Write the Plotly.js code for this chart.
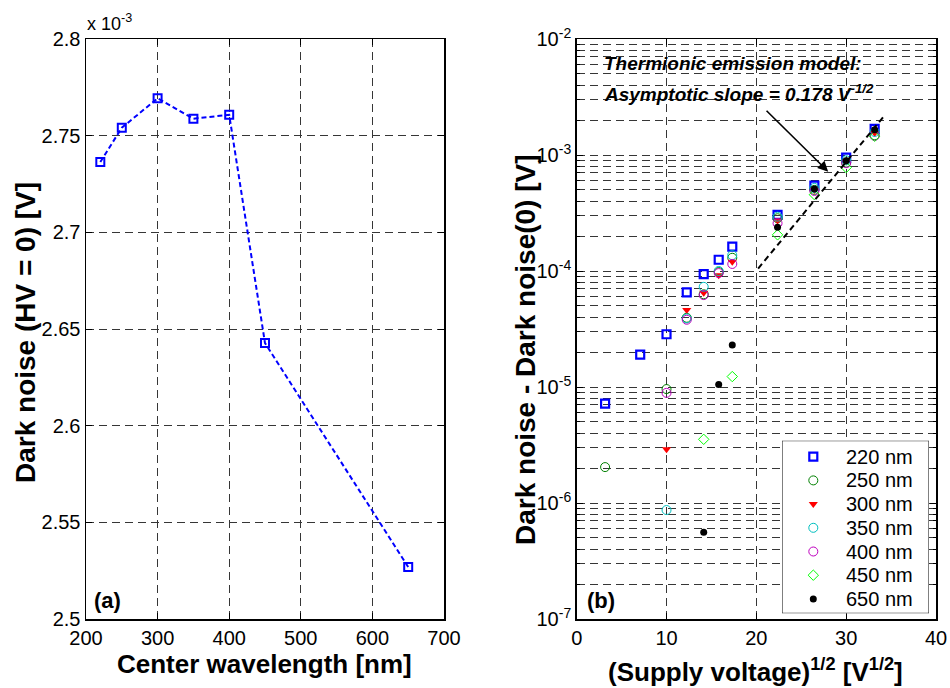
<!DOCTYPE html>
<html><head><meta charset="utf-8">
<script src="https://cdn.plot.ly/plotly-3.0.1.min.js"></script>
<style>html,body{margin:0;padding:0;background:#fff}#chart{width:950px;height:688px}</style>
</head><body><div id="chart"></div>
<script>
// ---------- Panel (a) data ----------
const wavelengths = [220, 250, 300, 350, 400, 450, 650];
const darkNoiseHV0 = [2.7364, 2.7541, 2.7693, 2.7588, 2.7608, 2.6427, 2.5269];
const aXTicks = [200, 300, 400, 500, 600, 700];
const aYTicks = [2.5, 2.55, 2.6, 2.65, 2.7, 2.75, 2.8];
const aYTickText = ['2.5', '2.55', '2.6', '2.65', '2.7', '2.75', '2.8'];

// ---------- Panel (b) data ----------
const seriesNames = ['220 nm', '250 nm', '300 nm', '350 nm', '400 nm', '450 nm', '650 nm'];
const x220 = [3.16, 7.07, 10, 12.25, 14.14, 15.81, 17.32, 22.36, 26.46, 30, 33.17];
const y220 = [7.2e-6, 1.9e-5, 2.85e-5, 6.55e-5, 9.4e-5, 1.25e-4, 1.62e-4, 3.05e-4, 5.45e-4, 9.5e-4, 1.68e-3];
const x250 = [3.16, 10, 12.25, 14.14, 15.81, 17.32, 22.36, 26.46, 30, 33.17];
const y250 = [2.04e-6, 9.6e-6, 3.95e-5, 6.3e-5, 9.8e-5, 1.3e-4, 2.85e-4, 5.0e-4, 8.6e-4, 1.48e-3];
const x300 = [10, 12.25, 14.14, 15.81, 17.32, 22.36, 26.46, 30, 33.17];
const y300 = [2.9e-6, 4.6e-5, 6.5e-5, 9.2e-5, 1.2e-4, 2.72e-4, 5.0e-4, 8.8e-4, 1.55e-3];
const x350 = [10, 12.25, 14.14, 15.81, 17.32, 22.36, 26.46, 30, 33.17];
const y350 = [8.7e-7, 3.9e-5, 7.3e-5, 1.0e-4, 1.37e-4, 2.94e-4, 5.2e-4, 9.0e-4, 1.58e-3];
const x400 = [10, 12.25, 14.14, 15.81, 17.32, 22.36, 26.46, 30, 33.17];
const y400 = [8.9e-6, 3.8e-5, 6.2e-5, 9.6e-5, 1.15e-4, 2.58e-4, 4.9e-4, 8.5e-4, 1.46e-3];
const x450 = [14.14, 17.32, 22.36, 26.46, 30, 33.17];
const y450 = [3.54e-6, 1.23e-5, 2.05e-4, 4.55e-4, 7.8e-4, 1.45e-3];
const x650 = [14.14, 15.81, 17.32, 22.36, 26.46, 30, 33.17];
const y650 = [5.6e-7, 1.05e-5, 2.3e-5, 2.38e-4, 5.1e-4, 8.9e-4, 1.65e-3];
// Thermionic emission model asymptote
const modelX = [20.2, 34.1];
const modelY = [1.05e-4, 2.11e-3];
const bXTicks = [0, 10, 20, 30, 40];
const bDecades = [-7, -6, -5, -4, -3, -2];
// Arrow (data coords: x, log10 y)
const arrowHead = [28.0, -3.144];
const arrowTail = [20.97, -2.606];

// ---------- build ----------
const FONT = 'Liberation Sans, Arial, sans-serif';
const W = 950, H = 688;
const px = v => v / W, py = v => 1 - v / H;

const bYTicks = bDecades.map(e => Math.pow(10, e));
const bYText = bDecades.map(e => '10<sup>' + e + '</sup>');
const bYMinor = [];
bDecades.slice(0, -1).forEach(e => {
  [2, 3, 4, 5, 6, 7, 8, 9].forEach(m => bYMinor.push(m * Math.pow(10, e)));
});

const gridDash = '8px,5px';
const gridColor = '#363636';
function axisBase(extra) {
  return Object.assign({
    showline: true, linecolor: '#000', linewidth: 1.5, mirror: 'ticks',
    ticks: 'inside', ticklen: 6, tickwidth: 1, tickcolor: '#000',
    showgrid: true, gridcolor: gridColor, griddash: gridDash, gridwidth: 1,
    zeroline: false, tickfont: {family: FONT, size: 20, color: '#000'},
    tickmode: 'array', fixedrange: true
  }, extra);
}

const yDom = [py(619), py(39)];
const traces = [];
traces.push({
  x: wavelengths, y: darkNoiseHV0, xaxis: 'x', yaxis: 'y', type: 'scatter',
  mode: 'lines+markers', showlegend: false,
  line: {color: '#0000ff', width: 2, dash: '5px,3px'},
  marker: {symbol: 'square-open', size: 8, color: '#0000ff', line: {width: 2, color: '#0000ff'}}
});

const specs = [
  {x: x220, y: y220, symbol: 'square-open', size: 8, color: '#0000ff', lw: 2.2},
  {x: x250, y: y250, symbol: 'circle-open', size: 9, color: '#008000', lw: 1},
  {x: x300, y: y300, symbol: 'triangle-down', size: 8, color: '#ff0000', lw: 0},
  {x: x350, y: y350, symbol: 'circle-open', size: 9, color: '#00bfbf', lw: 1},
  {x: x400, y: y400, symbol: 'circle-open', size: 9, color: '#bf00bf', lw: 1},
  {x: x450, y: y450, symbol: 'diamond-open', size: 8, color: '#00ff00', lw: 1},
  {x: x650, y: y650, symbol: 'circle', size: 7, color: '#000000', lw: 0}
];
const mk = s => ({symbol: s.symbol, size: s.size, color: s.color, line: {width: s.lw, color: s.color}});
specs.forEach((s, i) => {
  traces.push({
    x: s.x, y: s.y, xaxis: 'x2', yaxis: 'y2', type: 'scatter', mode: 'markers',
    name: seriesNames[i], showlegend: false, marker: mk(s)
  });
});
traces.push({
  x: modelX, y: modelY, xaxis: 'x2', yaxis: 'y2', type: 'scatter', mode: 'lines',
  showlegend: false, line: {color: '#000', width: 2, dash: '6px,4px'}
});

// Legend box (drawn on its own hidden axes, in pixel units inside the box)
const LEG = {x0: 782, x1: 929, y0: 440.7, y1: 613.3, mx: 31.3, tx: 62.3, row0: 16, step: 23.7};
specs.forEach((s, i) => {
  traces.push({
    x: [LEG.mx], y: [LEG.row0 + LEG.step * i], xaxis: 'x3', yaxis: 'y3', type: 'scatter',
    mode: 'markers', showlegend: false, hoverinfo: 'skip', marker: mk(s)
  });
});

const ann = (text, x, y, opts) => Object.assign({
  text: text, x: x, y: y, xref: 'paper', yref: 'paper', showarrow: false,
  xanchor: 'center', yanchor: 'middle',
  font: {family: FONT, size: 26, color: '#000'}
}, opts);

const annotations = [
  ann('<b>(a)</b>', px(92), py(600), {xanchor: 'left', font: {family: FONT, size: 22, color: '#000'}}),
  ann('<b>(b)</b>', px(585), py(600), {xanchor: 'left', font: {family: FONT, size: 22, color: '#000'}}),
  ann('x 10<sup>-3</sup>', px(85), py(22), {xanchor: 'left', font: {family: FONT, size: 18, color: '#000'}}),
  ann('<b>Dark noise (HV = 0) [V]</b>', px(25), py(333), {textangle: -90, font: {family: FONT, size: 28, color: '#000'}}),
  ann('<b>Center wavelength [nm]</b>', px(264), py(664)),
  ann('<b>Dark noise - Dark noise(0) [V]</b>', px(525), py(350), {textangle: -90, font: {family: FONT, size: 28, color: '#000'}}),
  ann('<b>(Supply voltage)<sup>1/2</sup> [V<sup>1/2</sup>]</b>', px(755), py(670)),
  ann('<b><i>Thermionic emission model:</i></b>', px(602), py(64), {xanchor: 'left', font: {family: FONT, size: 19, color: '#000'}}),
  ann('<b><i>Asymptotic slope = 0.178 V<sup>-1/2</sup></i></b>', px(602), py(93), {xanchor: 'left', font: {family: FONT, size: 19, color: '#000'}}),
  {x: arrowHead[0], y: arrowHead[1], ax: arrowTail[0], ay: arrowTail[1], xref: 'x2', yref: 'y2',
   axref: 'x2', ayref: 'y2', text: '', showarrow: true, arrowhead: 2, arrowsize: 1.3,
   arrowwidth: 1.6, arrowcolor: '#000', standoff: 0}
];
seriesNames.forEach((n, i) => {
  annotations.push({
    text: n, x: LEG.tx, y: LEG.row0 + LEG.step * i, xref: 'x3', yref: 'y3', showarrow: false,
    xanchor: 'left', yanchor: 'middle', font: {family: FONT, size: 20, color: '#000'}
  });
});

const layout = {
  width: W, height: H, margin: {l: 0, r: 0, t: 0, b: 0},
  paper_bgcolor: '#fff', plot_bgcolor: '#fff',
  font: {family: FONT, color: '#000'},
  showlegend: false,
  xaxis: axisBase({domain: [px(86), px(444)], range: [200, 700], tickvals: aXTicks, anchor: 'y'}),
  yaxis: axisBase({domain: yDom, range: [2.5, 2.8], tickvals: aYTicks, ticktext: aYTickText, anchor: 'x'}),
  xaxis2: axisBase({domain: [px(576.7), px(936)], range: [0, 40], tickvals: bXTicks, anchor: 'y2'}),
  yaxis2: axisBase({
    domain: yDom, type: 'log', range: [-7, -2], tickvals: bYTicks, ticktext: bYText, anchor: 'x2',
    minor: {tickmode: 'array', tickvals: bYMinor, ticks: 'inside', ticklen: 3, tickcolor: '#000',
            showgrid: true, gridcolor: gridColor, griddash: gridDash, gridwidth: 1}
  }),
  xaxis3: {domain: [px(LEG.x0), px(LEG.x1)], range: [0, LEG.x1 - LEG.x0], visible: false, fixedrange: true, anchor: 'y3'},
  yaxis3: {domain: [py(LEG.y1), py(LEG.y0)], range: [LEG.y1 - LEG.y0, 0], visible: false, fixedrange: true, anchor: 'x3'},
  shapes: [{
    type: 'rect', xref: 'x3', yref: 'y3', x0: 0, x1: LEG.x1 - LEG.x0, y0: 0, y1: LEG.y1 - LEG.y0,
    fillcolor: '#fff', line: {color: '#000', width: 1}, layer: 'below'
  }],
  annotations: annotations
};

Plotly.newPlot('chart', traces, layout, {displayModeBar: false, staticPlot: true});
</script>
</body></html>
